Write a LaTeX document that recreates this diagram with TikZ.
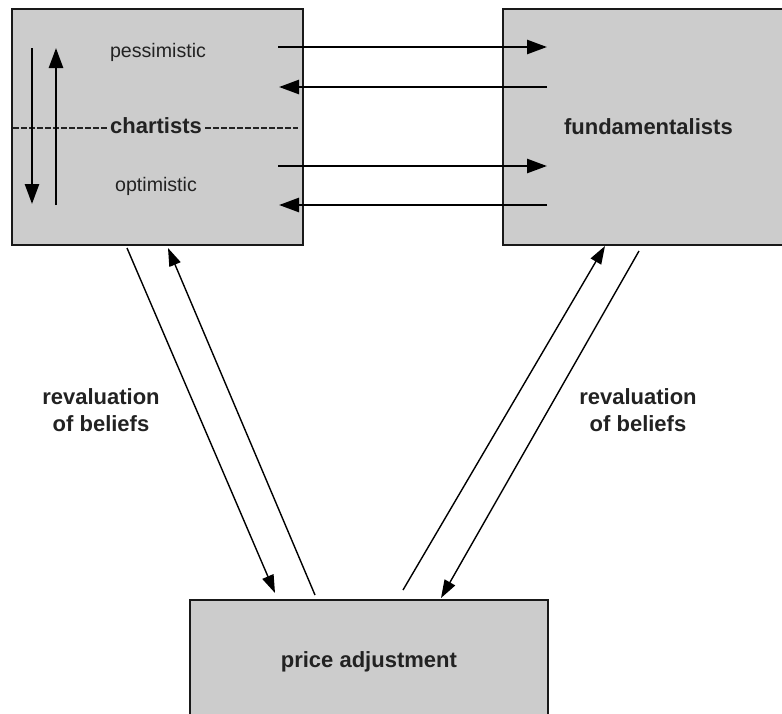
\documentclass[tikz,border=0pt]{standalone}
\usepackage{fontspec}
\setmainfont{Liberation Sans}
\usetikzlibrary{arrows.meta}
\definecolor{boxgray}{HTML}{CCCCCC}
\definecolor{inkgray}{HTML}{222222}
\tikzstyle{block}=[
  draw=black!90,
  fill=boxgray,
  line width=1.8pt,
  anchor=north west,
  inner sep=0pt,
  text=inkgray,
  font=\fontsize{22}{27}\selectfont\bfseries
]
\tikzstyle{bigtext}=[text=inkgray, font=\fontsize{22}{27}\selectfont\bfseries]
\tikzstyle{smalltext}=[text=inkgray, font=\fontsize{19.6}{23}\selectfont]
\tikzstyle{flow}=[line width=2.6pt, -{Triangle[length=20pt,width=14pt]}]
\tikzstyle{revise}=[line width=1.4pt, -{Triangle[length=18pt,width=12pt]}]
\tikzstyle{divider}=[draw=inkgray, line width=2.6pt, dash pattern=on 6pt off 2pt]

\begin{document}
\begin{tikzpicture}[x=1pt, y=-1pt]
          \clip (0,0) rectangle (782,713);

          \def \BoxW {291}
          \def \BoxH {236}

          \def \OutX {278}
          \def \InX {547}
          \def \BackX {279}

          % the three boxes
          \node[block, minimum width=\BoxW, minimum height=\BoxH] (chart) at (11,8) {};
          \node[block, minimum width=\BoxW, minimum height=\BoxH] (fund) at (502,8) {fundamentalists};
          \node[block, minimum width=358, minimum height=124] (price) at (189,599) {price adjustment};

          % inside the chartists box
          \node[smalltext, anchor=base] (pess) at (158,57) {pessimistic};
          \node[smalltext, anchor=base] (opt) at (156,191) {optimistic};
          \coordinate (dl) at (13,128);
          \coordinate (dr) at (298,128);
          \draw[divider] (dl) -- (dr);
          \node[bigtext, fill=boxgray, inner xsep=2.5pt, inner ysep=0pt, anchor=base] (chartists) at (156,133) {chartists};

          \foreach \x/\ya/\yb [count=\i] in {32/48/204, 56/205/48}{
            \coordinate (v\i) at (\x,\ya);
            \coordinate (w\i) at (\x,\yb);
            \draw[flow] (v\i) -- (w\i);
          }

          % between chartists and fundamentalists
          \foreach \y [count=\i] in {47,166}{
            \coordinate (o\i) at (\OutX,\y);
            \coordinate (p\i) at (\InX,\y);
            \draw[flow] (o\i) -- (p\i);
          }
          \foreach \y [count=\i] in {87,205}{
            \coordinate (q\i) at (\InX,\y);
            \coordinate (r\i) at (\BackX,\y);
            \draw[flow] (q\i) -- (r\i);
          }

          % to and from price adjustment
          \foreach \xa/\ya/\xb/\yb [count=\i] in {127/248/275/593, 315/595/168/248, 403/590/605/246, 639/251/441/598}{
            \coordinate (s\i) at (\xa,\ya);
            \coordinate (t\i) at (\xb,\yb);
            \draw[revise] (s\i) -- (t\i);
          }

          \node[bigtext, align=center] (revl) at (101,410.5) {revaluation\\of beliefs};
          \node[bigtext, align=center] (revr) at (638,410.5) {revaluation\\of beliefs};
        \end{tikzpicture}
\end{document}
